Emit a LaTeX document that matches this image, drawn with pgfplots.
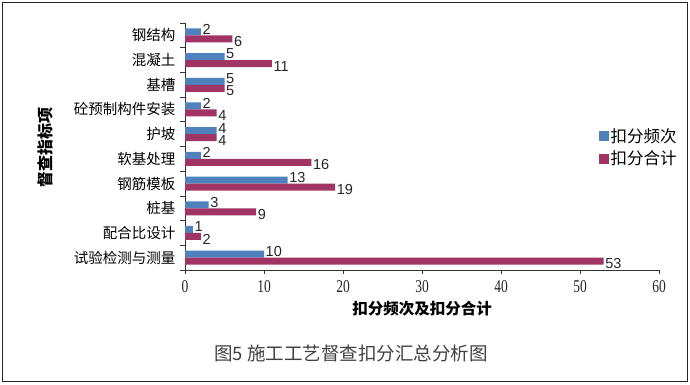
\documentclass[border=0pt]{standalone}
\usepackage{pgfplots}
\pgfplotsset{compat=1.18}
\usepackage{fontspec}
\setmainfont{Noto Sans CJK SC}
\newfontfamily\numfont{Liberation Sans}
\newfontfamily\serifnum[FakeStretch=0.75]{Liberation Serif}
\definecolor{cblue}{RGB}{79,129,189}
\definecolor{cred}{RGB}{160,52,100}
\begin{document}
\begin{tikzpicture}[x=1pt,y=1pt]
\draw[line width=1.4pt, black!85] (2.5,2.5) rectangle (687.5,381.5);
\path (0,0) rectangle (690,384);
\begin{axis}[
  at={(185pt,114pt)}, anchor=south west,
  scale only axis, width=474pt, height=247pt,
  xmin=0, xmax=60, ymin=-0.5, ymax=9.5,
  xbar, bar width=7pt,
  axis lines*=left,
  axis line style={black!80, line width=0.8pt},
  tick align=outside,
  major tick length=4pt, minor tick length=5pt,
  tick style={black!80, line width=0.8pt},
  xtick={0,10,...,60},
  x tick label style={font=\serifnum\fontsize{18}{18}\selectfont, yshift=-3pt, text=black!85},
  /pgf/number format/assume math mode=true,
  ytick={0,...,9},
  yticklabels={试验检测与测量,配合比设计,桩基,钢筋模板,软基处理,护坡,砼预制构件安装,基槽,混凝土,钢结构},
  y tick label style={font=\fontsize{14.5}{14.5}\selectfont, xshift=-2pt},
  minor ytick={-0.5,0.5,...,9.5},
  every major y tick/.append style={draw=none},
  xlabel={扣分频次及扣分合计},
  xlabel style={font=\bfseries\fontsize{15.5}{15.5}\selectfont, at={(axis description cs:0.5,-0.155)}, anchor=center},
  ylabel={督查指标项},
  ylabel style={font=\bfseries\fontsize{16}{16}\selectfont, at={(axis description cs:-0.295,0.494)}, anchor=center},
  nodes near coords,
  nodes near coords style={font=\numfont\fontsize{14.5}{14.5}\selectfont, anchor=west, inner xsep=1.5pt, inner ysep=0pt, text=black!85},
  legend style={at={(0.872,0.496)}, anchor=west, draw=none, fill=none,
    font=\fontsize{16.5}{16.5}\selectfont, row sep=3pt, inner sep=0pt},
  legend cell align=left,
  legend image code/.code={\fill[#1] (0pt,-5pt) rectangle (10pt,5pt);},
]
\addplot[fill=cblue, draw=none, bar shift=3.5pt, nodes near coords style={yshift=2.5pt}] coordinates {(10,0) (1,1) (3,2) (13,3) (2,4) (4,5) (2,6) (5,7) (5,8) (2,9)};
\addplot[fill=cred, draw=none, bar shift=-3.5pt, nodes near coords style={yshift=-2.5pt}] coordinates {(53,0) (2,1) (9,2) (19,3) (16,4) (4,5) (4,6) (5,7) (11,8) (6,9)};
\legend{扣分频次,扣分合计}
\end{axis}
\node[font=\fontsize{18.5}{18.5}\selectfont, text=black!75] at (351,31) {图5\ 施工工艺督查扣分汇总分析图};
\end{tikzpicture}
\end{document}
